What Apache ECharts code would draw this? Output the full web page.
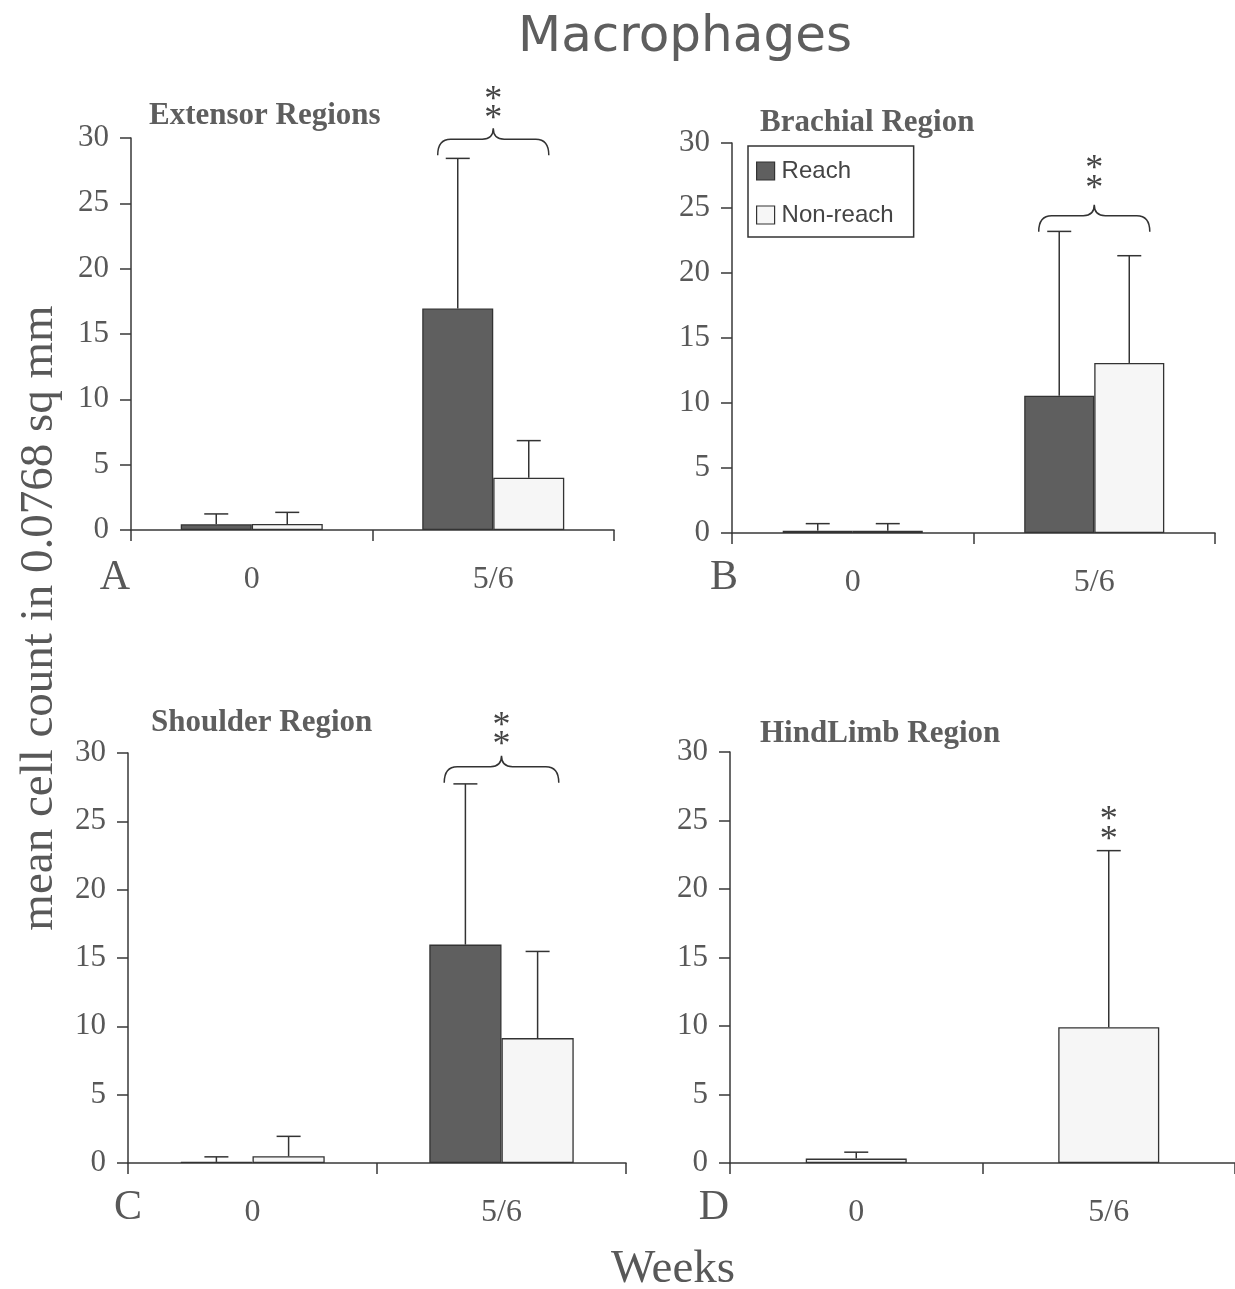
<!DOCTYPE html>
<html>
<head>
<meta charset="utf-8">
<script src="https://cdn.jsdelivr.net/npm/echarts@6/dist/echarts.min.js"></script>
<style>
html,body{margin:0;padding:0;background:#fff;}
#chart{width:1235px;height:1289px;}
</style>
</head>
<body>
<div id="chart"></div>
<script>
// ---------- data ----------
const categories = ['0', '5/6'];
const seriesNames = ['Reach', 'Non-reach'];
const panelTitles = ['Extensor Regions', 'Brachial Region', 'Shoulder Region', 'HindLimb Region'];
const panelLetters = ['A', 'B', 'C', 'D'];
const yTickValues = [0, 5, 10, 15, 20, 25, 30];

const extensorReach = [0.44, 16.95];
const extensorReachSD = [0.79, 11.49];
const extensorNonReach = [0.46, 4.0];
const extensorNonReachSD = [0.89, 2.84];

const brachialReach = [0.18, 10.56];
const brachialReachSD = [0.54, 12.64];
const brachialNonReach = [0.18, 13.08];
const brachialNonReachSD = [0.54, 8.25];

const shoulderReach = [0.08, 15.98];
const shoulderReachSD = [0.37, 11.76];
const shoulderNonReach = [0.49, 9.14];
const shoulderNonReachSD = [1.46, 6.34];

const hindlimbNonReach = [0.32, 9.91];
const hindlimbNonReachSD = [0.47, 12.89];

// significance marks: category index, brace level (null = no brace), two asterisk levels
const sigCategory = [1, 1, 1, 1];
const braceLevel = [29.9, 24.4, 29.0, null];
const starLevelLow = [32.0, 27.05, 31.1, 24.1];
const starLevelHigh = [33.5, 28.6, 32.5, 25.6];

// ---------- styling ----------
const SERIF = "'Liberation Serif','Times New Roman',serif";
const SANS = "'DejaVu Sans','Liberation Sans',sans-serif";
const HELV = "'Liberation Sans',Arial,sans-serif";
const AXIS_COLOR = '#383838';
const TEXT_COLOR = '#585858';
const REACH_COLOR = '#5f5f5f';
const NONREACH_COLOR = '#f6f6f6';

const grids = [
  {left: 131, top: 138, width: 483, height: 392},
  {left: 732, top: 143, width: 483, height: 390},
  {left: 128, top: 753, width: 498, height: 410},
  {left: 730, top: 752, width: 506, height: 411}
];
const barWidthPct = [29.4, 29, 29, 40];

const chart = echarts.init(document.getElementById('chart'), null, {renderer: 'canvas'});

const xAxes = grids.map((g, i) => ({
  type: 'category', gridIndex: i, data: categories,
  axisLine: {show: true, lineStyle: {color: AXIS_COLOR, width: 1.5}},
  axisTick: {show: true, length: 11, lineStyle: {color: AXIS_COLOR, width: 1.5}},
  axisLabel: {fontFamily: SERIF, fontSize: 32, color: TEXT_COLOR, margin: 34},
  splitLine: {show: false}
}));
const yAxes = grids.map((g, i) => ({
  type: 'value', gridIndex: i,
  min: yTickValues[0], max: yTickValues[yTickValues.length - 1],
  interval: yTickValues[1] - yTickValues[0],
  axisLine: {show: true, lineStyle: {color: AXIS_COLOR, width: 1.5}},
  axisTick: {show: true, length: 11, lineStyle: {color: AXIS_COLOR, width: 1.5}},
  axisLabel: {fontFamily: SERIF, fontSize: 31, color: TEXT_COLOR, margin: 22},
  splitLine: {show: false}
}));

function barSeries(name, data, panel, color) {
  return {
    name: name, type: 'bar', xAxisIndex: panel, yAxisIndex: panel,
    data: data, barWidth: barWidthPct[panel] + '%', barGap: '0%',
    itemStyle: {color: color, borderColor: '#333', borderWidth: 1.3},
    emphasis: {disabled: true}, z: 2
  };
}

function errSeries(means, sds, panel, dir) {
  return {
    type: 'custom', xAxisIndex: panel, yAxisIndex: panel, z: 5, clip: false,
    silent: true,
    data: means.map((m, k) => [k, m, sds[k]]),
    encode: {x: 0, y: 1},
    renderItem: function (params, api) {
      const c = api.value(0), m = api.value(1), sd = api.value(2);
      const p0 = api.coord([c, m]);
      const p1 = api.coord([c, m + sd]);
      const band = api.size([1, 0])[0];
      const cx = p0[0] + dir * band * barWidthPct[panel] / 200;
      const st = {stroke: '#333', lineWidth: 1.5};
      return {type: 'group', children: [
        {type: 'line', shape: {x1: cx, y1: p0[1], x2: cx, y2: p1[1]}, style: st},
        {type: 'line', shape: {x1: cx - 12, y1: p1[1], x2: cx + 12, y2: p1[1]}, style: st}
      ]};
    }
  };
}

function sigSeries(panel) {
  return {
    type: 'custom', xAxisIndex: panel, yAxisIndex: panel, z: 6, clip: false, silent: true,
    data: [[sigCategory[panel], braceLevel[panel] === null ? 0 : braceLevel[panel],
            starLevelLow[panel], starLevelHigh[panel], braceLevel[panel] === null ? 0 : 1]],
    renderItem: function (params, api) {
      const c = api.value(0);
      const band = api.size([1, 0])[0];
      const children = [];
      if (api.value(4) === 1) {
        const p = api.coord([c, api.value(1)]);
        const hw = band * 0.23, x0 = p[0] - hw, x1 = p[0] + hw, y = p[1], xc = p[0];
        const d = 'M' + x0 + ' ' + (y + 16) + ' Q' + x0 + ' ' + y + ' ' + (x0 + 13) + ' ' + y +
          ' L' + (xc - 11) + ' ' + y + ' Q' + xc + ' ' + y + ' ' + xc + ' ' + (y - 11) +
          ' Q' + xc + ' ' + y + ' ' + (xc + 11) + ' ' + y +
          ' L' + (x1 - 13) + ' ' + y + ' Q' + x1 + ' ' + y + ' ' + x1 + ' ' + (y + 16);
        children.push({type: 'path', shape: {pathData: d}, style: {fill: 'none', stroke: '#333', lineWidth: 1.5}});
      }
      [api.value(2), api.value(3)].forEach(v => {
        const s = api.coord([c, v]);
        children.push({type: 'text', x: s[0], y: s[1] + 8,
          style: {text: '*', font: '36px ' + SERIF, fill: '#444',
                  textAlign: 'center', align: 'center', textVerticalAlign: 'middle', verticalAlign: 'middle'}});
      });
      return {type: 'group', children: children};
    }
  };
}

const series = [
  barSeries('Reach', extensorReach, 0, REACH_COLOR),
  barSeries('Non-reach', extensorNonReach, 0, NONREACH_COLOR),
  errSeries(extensorReach, extensorReachSD, 0, -1),
  errSeries(extensorNonReach, extensorNonReachSD, 0, 1),
  sigSeries(0),

  barSeries('Reach', brachialReach, 1, REACH_COLOR),
  barSeries('Non-reach', brachialNonReach, 1, NONREACH_COLOR),
  errSeries(brachialReach, brachialReachSD, 1, -1),
  errSeries(brachialNonReach, brachialNonReachSD, 1, 1),
  sigSeries(1),

  barSeries('Reach', shoulderReach, 2, REACH_COLOR),
  barSeries('Non-reach', shoulderNonReach, 2, NONREACH_COLOR),
  errSeries(shoulderReach, shoulderReachSD, 2, -1),
  errSeries(shoulderNonReach, shoulderNonReachSD, 2, 1),
  sigSeries(2),

  barSeries('Non-reach', hindlimbNonReach, 3, NONREACH_COLOR),
  errSeries(hindlimbNonReach, hindlimbNonReachSD, 3, 0),
  sigSeries(3)
];

// text placements (annotations)
const titlePos = [[149, 116], [760, 123], [151, 723], [760, 734]];
const letterPos = [[115, 578], [724, 578], [128, 1208], [714, 1208]];

const graphics = [
  {type: 'text', x: 685, y: 38, style: {text: 'Macrophages', font: '50px ' + SANS, fill: '#5e5e5e',
    textAlign: 'center', textVerticalAlign: 'middle'}},
  {type: 'text', x: 40, y: 618, rotation: Math.PI / 2,
    style: {text: 'mean cell count in 0.0768 sq mm', font: '47px ' + SERIF, fill: TEXT_COLOR,
      textAlign: 'center', textVerticalAlign: 'middle'}},
  {type: 'text', x: 673, y: 1270, style: {text: 'Weeks', font: '47px ' + SERIF, fill: TEXT_COLOR,
    textAlign: 'center', textVerticalAlign: 'middle'}}
];
panelTitles.forEach((t, i) => {
  graphics.push({type: 'text', x: titlePos[i][0], y: titlePos[i][1],
    style: {text: t, font: 'bold 31px ' + SERIF, fill: '#5e5e5e', textAlign: 'left', textVerticalAlign: 'middle'}});
});
panelLetters.forEach((t, i) => {
  graphics.push({type: 'text', x: letterPos[i][0], y: letterPos[i][1],
    style: {text: t, font: '42px ' + SERIF, fill: TEXT_COLOR, textAlign: 'center', textVerticalAlign: 'middle'}});
});

chart.setOption({
  backgroundColor: '#ffffff',
  animation: false,
  grid: grids,
  xAxis: xAxes,
  yAxis: yAxes,
  legend: {
    data: seriesNames, orient: 'vertical', left: 748, top: 146,
    padding: [13, 20, 10, 8], itemGap: 20, itemWidth: 18, itemHeight: 18,
    icon: 'rect', borderColor: '#333', borderWidth: 1.5, backgroundColor: '#fff',
    selectedMode: false,
    itemStyle: {borderColor: '#333', borderWidth: 1.2},
    textStyle: {fontFamily: HELV, fontSize: 24, color: '#444', padding: [0, 0, 0, 2]}
  },
  graphic: graphics,
  series: series
});
</script>
</body>
</html>
